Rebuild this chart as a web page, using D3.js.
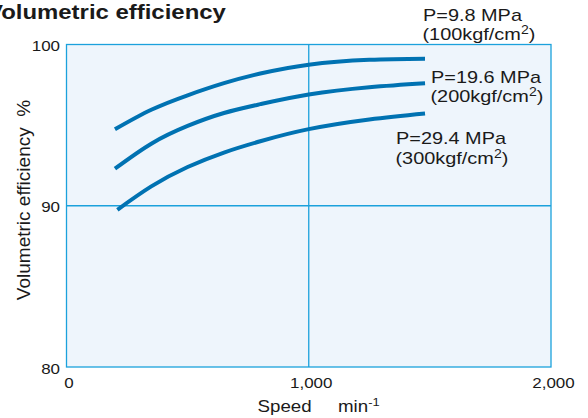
<!DOCTYPE html>
<html><head><meta charset="utf-8">
<script src="https://cdn.jsdelivr.net/npm/d3@7"></script>
<style>body{margin:0;background:#fff;} text{font-family:"Liberation Sans",Arial,sans-serif;fill:#1a1a1a;white-space:pre;}</style>
</head><body><svg id="c" width="588" height="418"></svg>
<script>
const speeds = [200, 350, 500, 650, 800, 1000, 1250, 1480];
const eff100 = [94.74, 95.95, 96.85, 97.6, 98.2, 98.75, 99.05, 99.12];
const eff200 = [92.3, 93.85, 94.95, 95.75, 96.3, 96.9, 97.35, 97.6];
const speeds300 = [210, 350, 500, 650, 800, 1000, 1250, 1480];
const eff300 = [89.75, 91.2, 92.4, 93.3, 94.0, 94.75, 95.35, 95.72];
const xTicks = [0, 1000, 2000];
const yTicks = [80, 90, 100];
const pLabels = ["P=9.8 MPa", "P=19.6 MPa", "P=29.4 MPa"];
const kLabels = ["(100kgf/cm", "(200kgf/cm", "(300kgf/cm"];

const SX = 1.17;
const svg = d3.select("#c");
const x = d3.scaleLinear().domain([0, 2000]).range([66.5, 551]);
const y = d3.scaleLinear().domain([80, 100]).range([367, 44.5]);

svg.append("rect").attr("x", x(0)).attr("y", y(100)).attr("width", x(2000)-x(0)).attr("height", y(80)-y(100))
  .attr("fill", "#eef5fc").attr("stroke", "#1ba1dc").attr("stroke-width", 1.3);
svg.append("line").attr("x1", x(1000)).attr("x2", x(1000)).attr("y1", y(100)).attr("y2", y(80)).attr("stroke", "#1ba1dc").attr("stroke-width", 1.3);
svg.append("line").attr("x1", x(0)).attr("x2", x(2000)).attr("y1", y(90)).attr("y2", y(90)).attr("stroke", "#1ba1dc").attr("stroke-width", 1.3);

function htext(px, py, size, anchor, sx) {
  return svg.append("text").attr("transform", `translate(${px},${py}) scale(${sx || SX},1)`)
    .attr("font-size", size).attr("text-anchor", anchor || "start");
}

const fmt = d3.format(",");
xTicks.forEach(d => htext(x(d) + 2.5, 388, 14.5, "middle").text(fmt(d)));
yTicks.forEach(d => htext(60, y(d) + 6.5, 14.5, "end").text(d));

const line = d3.line().x(d => x(d[0])).y(d => y(d[1])).curve(d3.curveNatural);
const series = [[speeds, eff100], [speeds, eff200], [speeds300, eff300]];
series.forEach(([s, e]) => {
  svg.append("path").attr("d", line(s.map((v, i) => [v, e[i]]))).attr("fill", "none")
    .attr("stroke", "#0072b2").attr("stroke-width", 4);
});

htext(-13, 18.5, 21, "start", 1.14).attr("font-weight", "bold").text("Volumetric efficiency");

htext(257.5, 412, 16).text("Speed");
const xl = htext(338, 412, 16);
xl.append("tspan").text("min");
xl.append("tspan").attr("dy", -6).attr("font-size", 11).text("-1");

svg.append("text").attr("transform", "translate(30,200) rotate(-90)").attr("text-anchor", "middle").attr("font-size", 19)
  .text("Volumetric efficiency  %");

const lpos = [[423, 20.7], [431, 82.7], [396, 144]];
lpos.forEach((p, i) => {
  htext(p[0], p[1], 17).text(pLabels[i]);
  const t = htext(p[0] - 0.5, p[1] + 19.5, 17);
  t.append("tspan").text(kLabels[i]);
  t.append("tspan").attr("dy", -6).attr("font-size", 12).text("2");
  t.append("tspan").attr("dy", 6).text(")");
});
</script></body></html>
